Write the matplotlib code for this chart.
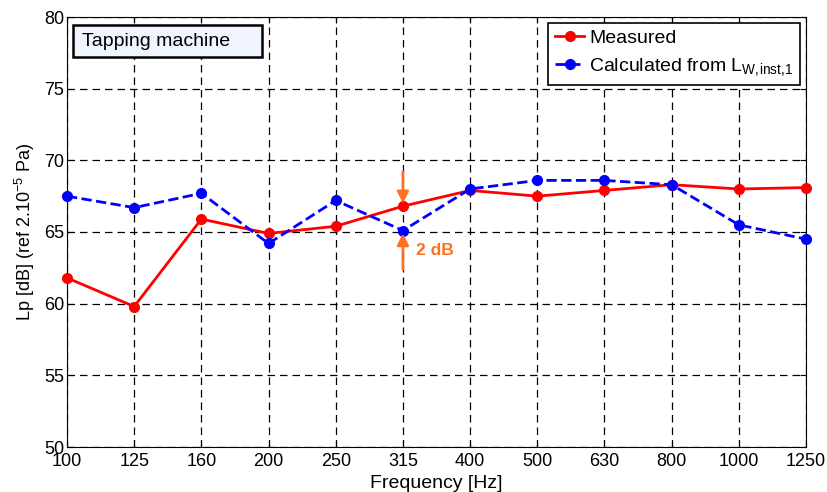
import matplotlib
matplotlib.use("Agg")
import matplotlib.pyplot as plt
from matplotlib.patches import Rectangle

plt.rcParams["font.family"] = ["Liberation Sans", "DejaVu Sans"]
plt.rcParams["mathtext.fontset"] = "custom"
plt.rcParams["mathtext.rm"] = "Liberation Sans"
plt.rcParams["mathtext.it"] = "Liberation Sans"

freqs = ["100", "125", "160", "200", "250", "315", "400", "500", "630", "800", "1000", "1250"]
measured = [61.8, 59.8, 65.9, 64.9, 65.4, 66.8, 67.9, 67.5, 67.9, 68.3, 68.0, 68.1]
calculated = [67.5, 66.7, 67.7, 64.2, 67.2, 65.1, 68.0, 68.6, 68.6, 68.3, 65.5, 64.5]
yticks = [50, 55, 60, 65, 70, 75, 80]

ORANGE = "#ff7020"

fig = plt.figure(figsize=(8.27, 4.92), dpi=100)
ax = fig.add_axes([67 / 827, 1 - 447 / 492, (806 - 67) / 827, (447 - 17) / 492])

x = list(range(len(freqs)))
ax.plot(x, measured, "-o", color="red", lw=2, ms=7, label="Measured", clip_on=False, zorder=3)
ax.plot(x, calculated, "--o", color="blue", lw=2, ms=7, clip_on=False, zorder=3,
        label=r"Calculated from L$_{\mathrm{W,\!inst,\!1}}$")

ax.set_xlim(0, len(freqs) - 1)
ax.set_ylim(50, 80)
ax.set_xticks(x)
ax.set_xticklabels(freqs)
ax.set_yticks(yticks)
ax.tick_params(labelsize=13, direction="in", length=4, pad=4, top=True, right=True)
ax.tick_params(axis="y", pad=2)
ax.grid(True, color="black", linestyle=(0, (6, 4)), lw=0.9)
for s in ax.spines.values():
    s.set_color("black")
ax.set_xlabel("Frequency [Hz]", fontsize=14, labelpad=4)
ax.set_ylabel(r"Lp [dB] (ref 2.10$^{-5}$ Pa)", fontsize=13, labelpad=5)

# 2 dB difference at 315 Hz
i = freqs.index("315")
ax.annotate("", xy=(i, measured[i]), xytext=(i, measured[i] + 2.6),
            arrowprops=dict(arrowstyle="-|>", color=ORANGE, lw=2, mutation_scale=17))
ax.annotate("", xy=(i, calculated[i]), xytext=(i, calculated[i] - 2.9),
            arrowprops=dict(arrowstyle="-|>", color=ORANGE, lw=2, mutation_scale=17))
ax.text(i + 0.19, calculated[i] - 1.4, "2 dB", color=ORANGE, fontsize=12.5,
        fontweight="bold", va="center", ha="left")

# title box
ax.add_patch(Rectangle((0.0081, 0.907), 0.2558, 0.0744, transform=ax.transAxes,
                       facecolor="#f0f4ff", edgecolor="black", lw=1.8, zorder=4))
ax.text(0.0203, 0.944, "Tapping machine", transform=ax.transAxes, fontsize=14,
        va="center", ha="left", zorder=5)

leg = ax.legend(loc="upper right", fontsize=14, frameon=True, fancybox=False,
                edgecolor="black", framealpha=1, handlelength=1.5, handletextpad=0.25,
                borderaxespad=0.3, labelspacing=0.45, borderpad=0.35)
leg.get_frame().set_linewidth(1.2)
leg.set_zorder(6)

fig.savefig("out.png", dpi=100, facecolor="white")
